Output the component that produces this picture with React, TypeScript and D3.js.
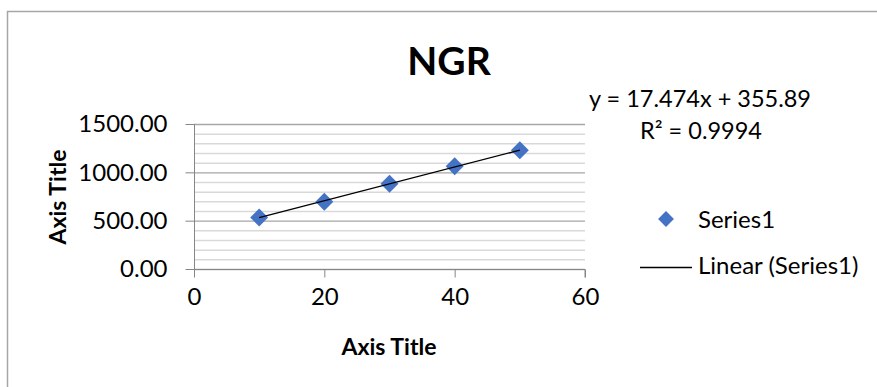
import React, { useEffect, useRef } from 'react'
import * as d3 from 'd3'

const xValues = [10, 20, 30, 40, 50]
const yValues = [532, 696, 882, 1062, 1228]
const xTicks = [0, 20, 40, 60]
const yMajorTicks = [0, 500, 1000, 1500]
const yMinorTicks = d3.range(0, 1501, 100)
const slope = 17.474
const intercept = 355.89
const titleText = 'NGR'
const seriesName = 'Series1'
const trendName = 'Linear (Series1)'
const equationText = 'y = 17.474x + 355.89'
const rSquared = '0.9994'

const W = 877
const H = 387
const margin = { top: 124, right: 292, bottom: 118, left: 194 }
const font = 'Lato, "Open Sans", sans-serif'
const blue = '#4472C4'

const App = () => {
  const ref = useRef<SVGSVGElement>(null)

  useEffect(() => {
    const svg = d3.select(ref.current)
    svg.selectAll('*').remove()

    const width = W - margin.left - margin.right
    const height = H - margin.top - margin.bottom

    const x = d3.scaleLinear().domain([0, 60]).range([0, width])
    const y = d3.scaleLinear().domain([0, 1500]).range([height, 0])

    // chart border
    svg.append('path')
      .attr('d', 'M7.5,' + H + 'V11.5H' + W)
      .attr('fill', 'none')
      .attr('stroke', '#a6a6a6')
      .attr('stroke-width', 1.5)

    svg.append('text')
      .attr('x', 449).attr('y', 75)
      .attr('text-anchor', 'middle')
      .style('font-family', font).style('font-weight', 700).style('font-size', '39px')
      .text(titleText)

    const g = svg.append('g')
      .attr('transform', 'translate(' + margin.left + ',' + margin.top + ')')

    // minor and major gridlines
    g.append('g').selectAll('line')
      .data(yMinorTicks)
      .enter().append('line')
      .attr('x1', 0).attr('x2', width)
      .attr('y1', d => y(d) + 0.5).attr('y2', d => y(d) + 0.5)
      .attr('stroke', d => (d % 500 === 0 ? '#a6a6a6' : '#d9d9d9'))
      .attr('stroke-width', d => (d % 500 === 0 ? 1.3 : 1.5))

    // x axis
    const xAxis = d3.axisBottom(x).tickValues(xTicks).tickSize(8).tickPadding(6)
    const xg = g.append('g')
      .attr('transform', 'translate(0,' + (height + 0.5) + ')')
      .call(xAxis)
    xg.selectAll('path, line').attr('stroke', '#868686')
    xg.select('.domain').attr('d', 'M0,0H' + width + 'V8')
    xg.selectAll('text')
      .style('font-family', font).style('font-size', '24px').attr('fill', '#000')
      .attr('dy', '0.9em')

    // y axis
    const yAxis = d3.axisLeft(y).tickValues(yMajorTicks).tickSize(9).tickPadding(18)
      .tickFormat(d3.format('.2f'))
    const yg = g.append('g')
      .attr('transform', 'translate(0.5,0)')
      .call(yAxis)
    yg.selectAll('path, line').attr('stroke', '#868686')
    yg.select('.domain').attr('d', 'M0,' + height + 'V0')
    yg.selectAll('text')
      .style('font-family', font).style('font-size', '24px').attr('fill', '#000')

    // axis titles
    svg.append('text')
      .attr('transform', 'translate(66,197) rotate(-90)')
      .attr('text-anchor', 'middle')
      .style('font-family', font).style('font-weight', 700).style('font-size', '23px')
      .text('Axis Title')
    svg.append('text')
      .attr('x', 389).attr('y', 355)
      .attr('text-anchor', 'middle')
      .style('font-family', font).style('font-weight', 700).style('font-size', '23px')
      .text('Axis Title')

    const diamond = d3.symbol().type(d3.symbolDiamond2).size(205)

    g.append('g').selectAll('path')
      .data(xValues)
      .enter().append('path')
      .attr('d', diamond)
      .attr('transform', (d, i) => 'translate(' + x(d) + ',' + y(yValues[i]) + ')')
      .attr('fill', blue)

    // trendline
    const xMin = d3.min(xValues) as number
    const xMax = d3.max(xValues) as number
    g.append('line')
      .attr('x1', x(xMin)).attr('y1', y(slope * xMin + intercept))
      .attr('x2', x(xMax)).attr('y2', y(slope * xMax + intercept))
      .attr('stroke', '#000').attr('stroke-width', 1.3)

    // equation
    svg.append('text')
      .attr('x', 700).attr('y', 107)
      .attr('text-anchor', 'middle')
      .style('font-family', font).style('font-size', '23.5px')
      .text(equationText)
    svg.append('text')
      .attr('x', 701).attr('y', 139)
      .attr('text-anchor', 'middle')
      .style('font-family', font).style('font-size', '23.5px')
      .text('R² = ' + rSquared)

    // legend
    svg.append('path')
      .attr('d', d3.symbol().type(d3.symbolDiamond2).size(160))
      .attr('transform', 'translate(666,219)')
      .attr('fill', blue)
    svg.append('text')
      .attr('x', 698).attr('y', 228)
      .style('font-family', font).style('font-size', '24px')
      .text(seriesName)
    svg.append('line')
      .attr('x1', 640).attr('x2', 692).attr('y1', 267.5).attr('y2', 267.5)
      .attr('stroke', '#000').attr('stroke-width', 1.3)
    svg.append('text')
      .attr('x', 698).attr('y', 274)
      .style('font-family', font).style('font-size', '24px')
      .text(trendName)
  }, [])

  return (
    <svg ref={ref} width={W} height={H} style={{ position: 'absolute', left: 0, top: 0, background: '#fff' }} />
  )
}

export default App
